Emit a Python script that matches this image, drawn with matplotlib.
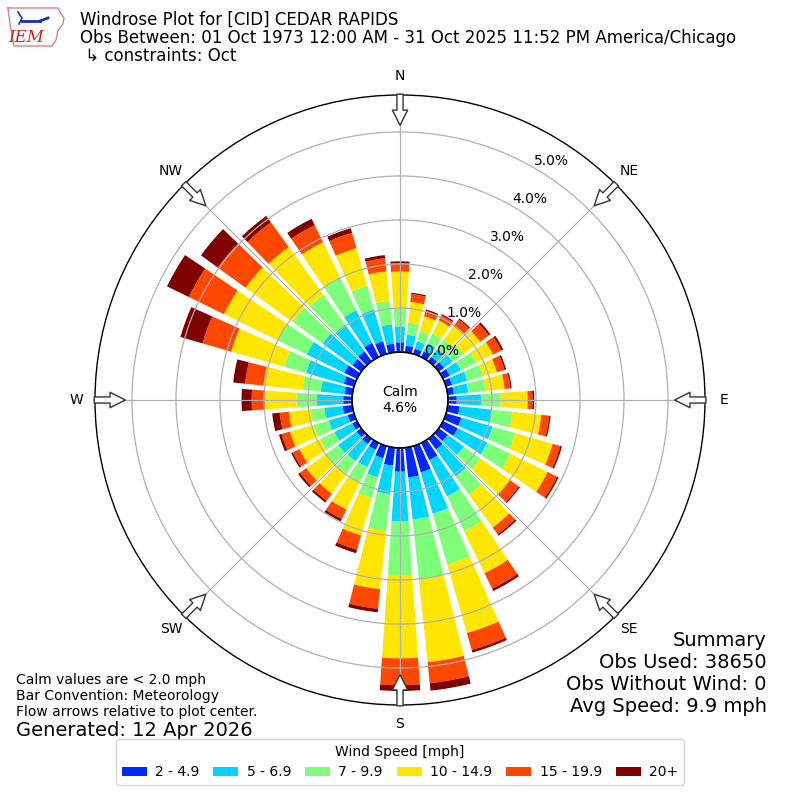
import numpy as np
import matplotlib
matplotlib.use("Agg")
import matplotlib.pyplot as plt

# direction bins (deg, met. convention) and cumulative percent per speed class
directions = np.arange(0, 360, 10)
speed_labels = ["2 - 4.9", "5 - 6.9", "7 - 9.9", "10 - 14.9", "15 - 19.9", "20+"]

cum_2 = [0.22, 0.15, 0.12, 0.14, 0.12, 0.15, 0.17, 0.14, 0.14, 0.20,
         0.27, 0.36, 0.37, 0.25, 0.30, 0.43, 0.62, 0.68, 0.54, 0.41,
         0.29, 0.17, 0.15, 0.13, 0.12, 0.15, 0.22, 0.20, 0.18, 0.24,
         0.32, 0.25, 0.28, 0.36, 0.30, 0.20]
cum_5 = [0.58, 0.40, 0.30, 0.35, 0.35, 0.39, 0.45, 0.50, 0.47, 0.75,
         1.00, 1.10, 1.12, 0.71, 1.06, 1.35, 1.60, 1.64, 1.67, 1.06,
         0.74, 0.61, 0.63, 0.65, 0.57, 0.59, 0.64, 0.80, 0.72, 1.13,
         1.27, 1.09, 1.03, 1.18, 1.05, 0.64]
cum_7 = [0.99, 0.68, 0.54, 0.59, 0.61, 0.68, 0.84, 0.88, 0.87, 1.20,
         1.48, 1.63, 1.70, 1.17, 1.57, 2.23, 2.80, 3.00, 2.89, 1.90,
         1.23, 1.00, 0.98, 1.00, 0.93, 0.95, 0.95, 1.26, 1.14, 1.65,
         2.00, 1.93, 1.87, 2.01, 1.61, 1.18]
cum_10 = [1.83, 1.15, 0.89, 0.92, 0.98, 1.16, 1.26, 1.20, 1.30, 1.81,
          2.14, 2.52, 2.64, 2.00, 2.49, 3.29, 4.42, 4.90, 4.78, 3.23,
          2.11, 1.68, 1.54, 1.54, 1.45, 1.51, 1.45, 1.98, 2.03, 2.90,
          3.36, 3.25, 3.21, 2.90, 2.50, 1.85]
cum_15 = [2.02, 1.33, 1.02, 1.05, 1.17, 1.40, 1.47, 1.38, 1.43, 1.92,
          2.32, 2.70, 2.88, 2.25, 2.68, 3.68, 4.82, 5.38, 5.39, 3.68,
          2.45, 1.92, 1.74, 1.72, 1.62, 1.71, 1.66, 2.28, 2.45, 3.58,
          4.25, 4.03, 3.90, 3.33, 2.86, 2.15]
cum_20 = [2.06, 1.36, 1.05, 1.08, 1.20, 1.45, 1.52, 1.42, 1.46, 1.96,
          2.35, 2.74, 2.92, 2.28, 2.72, 3.74, 4.88, 5.55, 5.52, 3.76,
          2.53, 1.98, 1.79, 1.77, 1.66, 1.77, 1.83, 2.51, 2.72, 4.10,
          4.80, 4.50, 4.08, 3.49, 2.97, 2.22]

calm_pct = 4.6
rticks = [0, 1, 2, 3, 4, 5]
compass = ["N", "NE", "E", "SE", "S", "SW", "W", "NW"]

title_lines = [
    "Windrose Plot for [CID] CEDAR RAPIDS",
    "Obs Between: 01 Oct 1973 12:00 AM - 31 Oct 2025 11:52 PM America/Chicago",
    " \u21b3 constraints: Oct",
]
summary = ["Summary", "Obs Used: 38650", "Obs Without Wind: 0", "Avg Speed: 9.9 mph"]
notes = ["Calm values are < 2.0 mph", "Bar Convention: Meteorology",
         "Flow arrows relative to plot center."]


def draw_logo(fig):
    # rough state outline + IEM lettering, in figure pixels
    ax = fig.add_axes([0, 1 - 52 / 800, 70 / 800, 52 / 800])
    ax.set_xlim(0, 70)
    ax.set_ylim(52, 0)
    ax.axis("off")
    xs = [8, 58, 60, 64, 63, 58, 56, 52, 14, 12, 10, 9, 8]
    ys = [8, 8, 12, 18, 24, 30, 40, 46, 46, 36, 24, 16, 8]
    ax.plot(xs, ys, color="#e08080", lw=1)
    ax.plot([22, 40], [21, 21], color="#1030c0", lw=2)
    ax.plot([40, 48], [21, 18], color="#1030c0", lw=2)
    ax.plot([18, 22, 19], [12, 18, 24], color="#1030c0", lw=1.2)
    ax.text(26, 38, "IEM", color="#cc2222", fontsize=12, family="serif",
            style="italic", ha="center", va="center")


def main():
    cums = np.array([cum_2, cum_5, cum_7, cum_10, cum_15, cum_20])
    colors = plt.cm.jet(np.arange(1, 7) / 6.0)

    fig = plt.figure(figsize=(8, 8), dpi=100)
    ax = fig.add_axes([0.11875, 0.11875, 0.7625, 0.7625], projection="polar")
    ax.set_theta_zero_location("N")
    ax.set_theta_direction(-1)

    theta = np.deg2rad(directions)
    width = np.deg2rad(8)
    bottom = np.zeros(len(directions))
    for i in range(len(speed_labels)):
        height = cums[i] - bottom
        ax.bar(theta, height, width=width, bottom=bottom, color=colors[i],
               label=speed_labels[i], linewidth=0, zorder=2)
        bottom = cums[i]

    rmax = 5.84
    ax.set_ylim(0, rmax)
    ax.set_rorigin(-1.09)
    ax.set_axisbelow(False)
    ax.grid(True, color="#b0b0b0", linewidth=0.9)
    ax.set_rgrids(rticks, labels=[f"{t:.1f}%" for t in rticks], angle=30,
                  fontsize=10)
    ax.set_thetagrids(range(0, 360, 45), labels=compass, fontsize=10)
    ax.tick_params(axis="x", pad=3)
    ax.spines["polar"].set_linewidth(1.0)

    # calm circle
    tt = np.linspace(0, 2 * np.pi, 361)
    ax.plot(tt, np.zeros_like(tt), color="k", linewidth=1.2, zorder=5, clip_on=False)
    ax.text(0.5, 0.5, f"Calm\n{calm_pct:.1f}%", transform=ax.transAxes,
            ha="center", va="center", fontsize=10, zorder=6)

    # flow arrows
    for ang in range(0, 360, 45):
        ax.annotate("", xy=(np.deg2rad(ang), 5.15), xytext=(np.deg2rad(ang), 5.86),
                    arrowprops=dict(arrowstyle="simple,head_length=0.55,head_width=0.55,tail_width=0.22",
                                    fc="white", ec="#333333", lw=1, shrinkA=0, shrinkB=0,
                                    mutation_scale=20),
                    zorder=7, annotation_clip=False)

    # titles
    for i, line in enumerate(title_lines):
        fig.text(0.1, 1 - (20 + 18 * i) / 800, line, fontsize=12, va="center", ha="left")

    draw_logo(fig)

    for i, line in enumerate(summary):
        fig.text(767 / 800, 1 - (640 + 22 * i) / 800, line, fontsize=14,
                 ha="right", va="center")
    for i, line in enumerate(notes):
        fig.text(16 / 800, 1 - (680 + 16 * i) / 800, line, fontsize=10,
                 ha="left", va="center")
    fig.text(16 / 800, 1 - 730 / 800, "Generated: 12 Apr 2026", fontsize=14,
             ha="left", va="center")

    handles, labels = ax.get_legend_handles_labels()
    fig.legend(handles, labels, loc="lower center", bbox_to_anchor=(0.5, 0.01),
               ncol=6, title="Wind Speed [mph]", fontsize=10, title_fontsize=10,
               handlelength=1.8, handleheight=0.6, handletextpad=0.6,
               columnspacing=1.0)

    fig.savefig("out.png", dpi=100)


if __name__ == "__main__":
    main()
